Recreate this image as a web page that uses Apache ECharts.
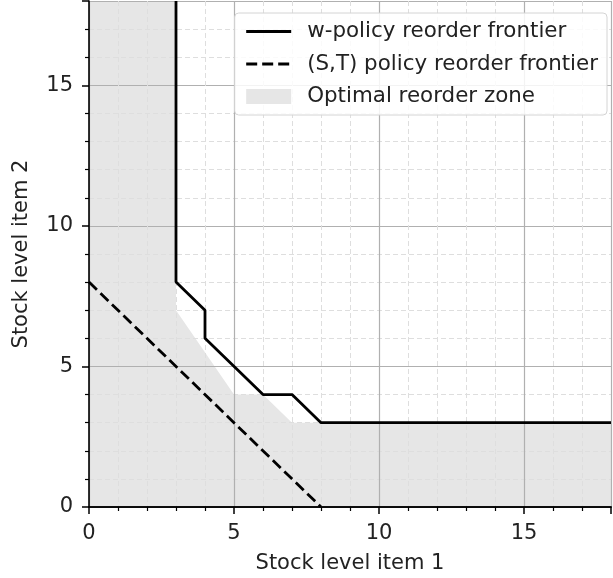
<!DOCTYPE html>
<html>
<head>
<meta charset="utf-8">
<script src="https://cdn.jsdelivr.net/npm/echarts@6/dist/echarts.min.js"></script>
<style>
  html, body { margin: 0; padding: 0; background: #fff; }
  #chart { width: 613px; height: 578px; }
</style>
</head>
<body>
<div id="chart"></div>
<script>
// frontier points [stock item 1, stock item 2]
const wPolicyFrontier = [[3, 18], [3, 8], [4, 7], [4, 6], [6, 4], [7, 4], [8, 3], [18, 3]];
const stPolicyFrontier = [[0, 8], [8, 0]];
// upper edge of the shaded reorder zone (filled down to 0)
const reorderZone = [[0, 18], [3, 18], [3, 7], [5, 4], [6, 4], [7, 3], [18, 3]];
const seriesNames = ['w-policy reorder frontier', '(S,T) policy reorder frontier', 'Optimal reorder zone'];
const xLabel = 'Stock level item 1';
const yLabel = 'Stock level item 2';

const FONT = 'DejaVu Sans';
const FS = 21;
const chart = echarts.init(document.getElementById('chart'));

const axisCommon = {
  type: 'value',
  min: 0,
  max: 18,
  interval: 5,
  nameLocation: 'middle',
  nameTextStyle: { fontFamily: FONT, fontSize: FS, color: '#222' },
  axisLine: { show: true, onZero: false, lineStyle: { color: '#000', width: 1.6 } },
  axisTick: { show: true, length: 7, lineStyle: { color: '#000', width: 1.5 } },
  minorTick: { show: true, splitNumber: 5, length: 4, lineStyle: { color: '#000', width: 1.2 } },
  splitLine: { show: true, lineStyle: { color: '#b0b0b0', width: 1.2 } },
  minorSplitLine: { show: true, lineStyle: { color: '#dedede', width: 1, type: [5, 3] } }
};

const tickLabel = (margin) => ({ fontFamily: FONT, fontSize: FS, color: '#222', showMaxLabel: false, margin: margin });

chart.setOption({
  animation: false,
  grid: { left: 89, right: 2, top: 1, bottom: 71, outerBoundsMode: 'none', containLabel: false },
  xAxis: [
    Object.assign({}, axisCommon, { name: xLabel, nameGap: 46, axisLabel: tickLabel(16) }),
    {
      type: 'value', position: 'top', min: 0, max: 18,
      axisLine: { show: true, lineStyle: { color: '#000', width: 1.6 } },
      axisTick: { show: false }, axisLabel: { show: false }, splitLine: { show: false }
    }
  ],
  yAxis: Object.assign({}, axisCommon, { name: yLabel, nameGap: 57, axisLabel: tickLabel(16) }),
  legend: {
    right: 6,
    top: 13,
    orient: 'vertical',
    align: 'left',
    itemWidth: 45,
    itemHeight: 15,
    itemGap: 11.5,
    padding: [8, 9, 8, 10],
    backgroundColor: 'rgba(255,255,255,0.85)',
    borderColor: '#d4d4d4',
    borderWidth: 1,
    borderRadius: 4,
    lineStyle: { width: 3 },
    textStyle: { fontFamily: FONT, fontSize: 21.4, color: '#222', padding: [0, 0, 0, 11] },
    data: [
      { name: seriesNames[0], itemStyle: { opacity: 0 } },
      { name: seriesNames[1], itemStyle: { opacity: 0 } },
      { name: seriesNames[2], icon: 'rect' }
    ]
  },
  series: [
    {
      name: seriesNames[2],
      type: 'line',
      z: -1,
      data: reorderZone,
      symbol: 'none',
      silent: true,
      itemStyle: { color: '#e6e6e6' },
      lineStyle: { width: 0, color: '#e6e6e6' },
      areaStyle: { color: '#e6e6e6', opacity: 1 }
    },
    {
      name: seriesNames[0],
      type: 'line',
      data: wPolicyFrontier,
      symbol: 'none',
      itemStyle: { color: '#000' },
      lineStyle: { color: '#000', width: 2.8 }
    },
    {
      name: seriesNames[1],
      type: 'line',
      data: stPolicyFrontier,
      symbol: 'none',
      itemStyle: { color: '#000' },
      lineStyle: { color: '#000', width: 2.8, type: [11, 5] }
    }
  ]
});
</script>
</body>
</html>
